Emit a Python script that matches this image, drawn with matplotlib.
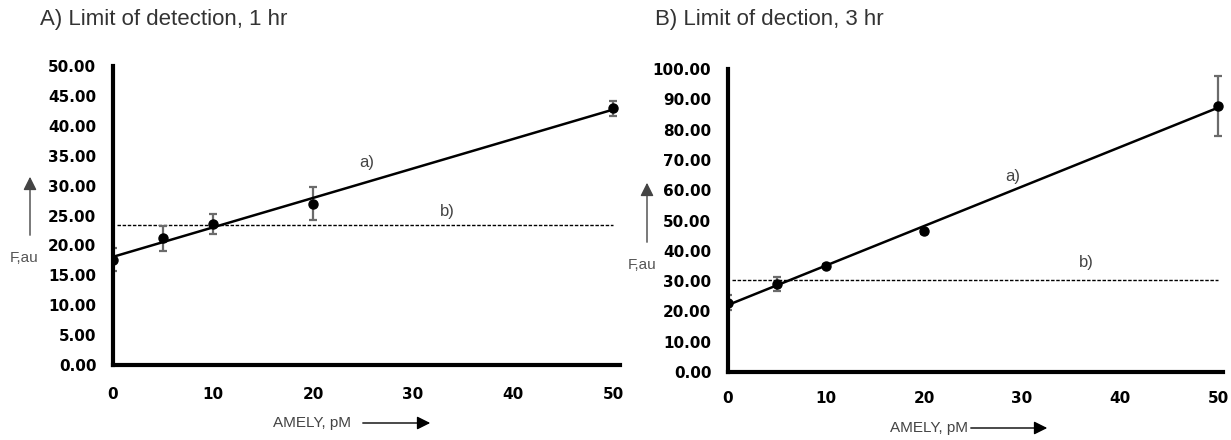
import matplotlib
matplotlib.use("Agg")
import matplotlib.pyplot as plt
from matplotlib.patches import FancyArrowPatch
import numpy as np

x_vals = [0, 5, 10, 20, 50]
a_y = [17.6, 21.2, 23.6, 27.0, 42.9]
a_err = [1.95, 2.1, 1.7, 2.7, 1.3]
a_lod = 23.4
b_y = [22.9, 29.0, 35.0, 46.5, 87.9]
b_err = [2.5, 2.2, 0.5, 0.8, 9.9]
b_lod = 30.4
x_ticks = [0, 10, 20, 30, 40, 50]
a_yticks = np.arange(0, 50.01, 5)
b_yticks = np.arange(0, 100.01, 10)

W, H = 1231, 440
fig = plt.figure(figsize=(W / 100, H / 100), dpi=100)
plt.rcParams['font.family'] = ['Liberation Sans', 'DejaVu Sans']


def fx(px):
    return px / W


def fy(py):
    return 1 - py / H


def make_panel(left, right_px, xmax, bottom, top, y, err, lod, yticks, ymax,
               title, title_x, la, lb, ylab, arrow_y, xlab, arrow_x, xpad):
    ax = fig.add_axes([fx(left), fy(bottom), (right_px - left) / W, (bottom - top) / H])
    ax.errorbar(x_vals, y, yerr=err, fmt='none', ecolor='#6b6b6b', elinewidth=1.6,
                capsize=3.2, capthick=1.6, zorder=2)
    coef = np.polyfit(x_vals, y, 1)
    xx = np.array([0, 50])
    ax.plot(xx, np.polyval(coef, xx), color='black', lw=1.8, zorder=3)
    ax.plot(x_vals, y, 'o', color='black', ms=6.5, zorder=4)
    ax.hlines(lod, 0.4, 50, color='black', lw=1, linestyles=(0, (2.5, 1.2)), zorder=1)
    ax.set_xlim(0, xmax)
    ax.set_ylim(0, ymax)
    ax.set_xticks(x_ticks)
    ax.set_yticks(yticks)
    ax.set_yticklabels([f"{v:.2f}" for v in yticks])
    for s in ['top', 'right']:
        ax.spines[s].set_visible(False)
    for s in ['left', 'bottom']:
        ax.spines[s].set_linewidth(3)
    ax.tick_params(length=0, labelsize=11)
    ax.tick_params(axis='y', pad=12)
    ax.tick_params(axis='x', pad=xpad)
    for lbl in ax.get_xticklabels() + ax.get_yticklabels():
        lbl.set_fontweight('bold')
        lbl.set_family('DejaVu Sans')
    ax.text(la[0], la[1], 'a)', fontsize=12, color='#444444', ha='center', va='center')
    ax.text(lb[0], lb[1], 'b)', fontsize=12, color='#444444', ha='center', va='center')
    fig.text(fx(title_x), fy(20), title, fontsize=16, va='center', ha='left', color='#333333')
    fig.text(fx(ylab[0]), fy(ylab[1]), 'F,au', fontsize=11, va='center', ha='left', color='#555555')
    fig.add_artist(FancyArrowPatch(
        (fx(arrow_y[0]), fy(arrow_y[1])), (fx(arrow_y[0]), fy(arrow_y[2])),
        transform=fig.transFigure, arrowstyle='-|>', mutation_scale=20, color='#444444', lw=1))
    fig.text(fx(xlab[0]), fy(xlab[1]), 'AMELY, pM', fontsize=11, va='center', ha='left', color='#444444')
    fig.add_artist(FancyArrowPatch(
        (fx(arrow_x[0]), fy(xlab[1])), (fx(arrow_x[1]), fy(xlab[1])),
        transform=fig.transFigure, arrowstyle='-|>', mutation_scale=20, color='#000000', lw=1))
    return ax


make_panel(113, 620, 50.7, 365, 66, a_y, a_err, a_lod, a_yticks, 50,
           'A) Limit of detection, 1 hr', 40, (25.4, 33.8), (33.4, 25.6),
           (10, 258), (30, 238, 174), (273, 423), (360, 433), 16)
make_panel(728, 1223, 50.5, 372, 69, b_y, b_err, b_lod, b_yticks, 100,
           'B) Limit of dection, 3 hr', 655, (29.1, 64.4), (36.6, 36.3),
           (628, 265), (647, 245, 180), (890, 428), (968, 1050), 14)

fig.savefig('out.png', dpi=100)
